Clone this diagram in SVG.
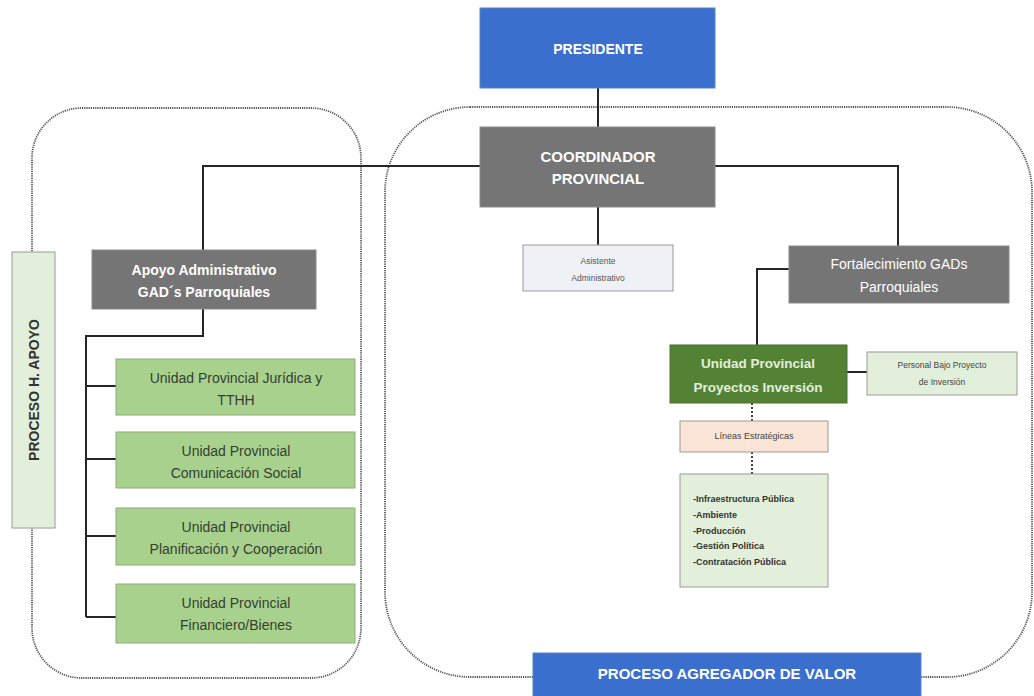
<svg xmlns="http://www.w3.org/2000/svg" width="1034" height="696" viewBox="0 0 1034 696">
<style>
text{font-family:"Liberation Sans",Arial,sans-serif;text-anchor:middle}
.cont{fill:none;stroke:#555;stroke-width:1.8;stroke-dasharray:1.2 1}
.blue{fill:#3b6fce;stroke:#5a82c8;stroke-width:1}
.gray{fill:#757575;stroke:#8a8a8a;stroke-width:1}
.lg{fill:#a9d18e;stroke:#8faa7a;stroke-width:1}
.pale{fill:#e2efda;stroke:#9a9a9a;stroke-width:1}
.wb{fill:#fff;font-weight:bold}
.gt{fill:#354030;font-size:14px}
.ln{fill:none;stroke:#262626;stroke-width:2}
.dl{fill:none;stroke:#404040;stroke-width:2;stroke-dasharray:2 2}
</style>
<rect width="1034" height="696" fill="#fff"/>
<g id="containers">
<rect class="cont" x="32" y="108" width="329" height="570" rx="50" ry="50"/>
<rect class="cont" x="385" y="107" width="647" height="570" rx="85" ry="85"/>
</g>
<g id="connectors">
<path class="ln" d="M598 88V127"/>
<path class="ln" d="M480 166H203V250"/>
<path class="ln" d="M715 166H898V246"/>
<path class="ln" d="M598 207V245"/>
<path class="ln" d="M789 269H757V345"/>
<path class="ln" d="M847 372H867"/>
<path class="ln" d="M203 309V336H86V617"/>
<path class="ln" d="M86 386H116M86 459H116M86 536H116M86 617H116"/>
<path class="dl" d="M752 403V421M752 452V474"/>
</g>
<g id="presidente">
<rect class="blue" x="480" y="8" width="235" height="80"/>
<text class="wb" x="598" y="54" font-size="14">PRESIDENTE</text>
</g>
<g id="coordinador">
<rect class="gray" x="480" y="127" width="235" height="80"/>
<text class="wb" x="598" y="162" font-size="15">COORDINADOR</text>
<text class="wb" x="598" y="184" font-size="15">PROVINCIAL</text>
</g>
<g id="asistente">
<rect x="523" y="245" width="150" height="46" fill="#eef1f5" stroke="#9a9a9a"/>
<text x="598" y="264" font-size="8.5" fill="#555">Asistente</text>
<text x="598" y="281" font-size="8.5" fill="#555">Administrativo</text>
</g>
<g id="fortalecimiento">
<rect class="gray" x="789" y="246" width="220" height="57"/>
<text x="899" y="269" font-size="14" fill="#fff">Fortalecimiento GADs</text>
<text x="899" y="292" font-size="14" fill="#fff">Parroquiales</text>
</g>
<g id="proyectos">
<rect x="670" y="345" width="177" height="58" fill="#548235" stroke="#4a7030"/>
<text x="758" y="368" font-size="13.5" font-weight="bold" fill="#e2efda">Unidad Provincial</text>
<text x="758" y="392" font-size="13.5" font-weight="bold" fill="#e2efda">Proyectos Inversión</text>
</g>
<g id="personal">
<rect class="pale" x="867" y="352" width="150" height="43"/>
<text x="942" y="368" font-size="8.5" fill="#444">Personal Bajo Proyecto</text>
<text x="942" y="385" font-size="8.5" fill="#444">de Inversión</text>
</g>
<g id="lineas">
<rect x="680" y="421" width="148" height="31" fill="#fbe5d6" stroke="#9a9a9a"/>
<text x="754" y="439" font-size="9" fill="#444">Líneas Estratégicas</text>
</g>
<g id="lista">
<rect class="pale" x="680" y="474" width="148" height="113"/>
<g font-size="9" font-weight="bold" fill="#333">
<text x="693" y="502" style="text-anchor:start">-Infraestructura Pública</text>
<text x="693" y="518" style="text-anchor:start">-Ambiente</text>
<text x="693" y="534" style="text-anchor:start">-Producción</text>
<text x="693" y="549" style="text-anchor:start">-Gestión Política</text>
<text x="693" y="565" style="text-anchor:start">-Contratación Pública</text>
</g>
</g>
<g id="agregador">
<rect class="blue" x="533" y="653" width="388" height="45"/>
<text class="wb" x="727" y="679" font-size="15">PROCESO AGREGADOR DE VALOR</text>
</g>
<g id="apoyo-h">
<rect class="pale" x="12" y="252" width="43" height="276"/>
<text transform="translate(39 390) rotate(-90)" font-size="14" font-weight="bold" fill="#333">PROCESO H. APOYO</text>
</g>
<g id="apoyo-admin">
<rect class="gray" x="92" y="250" width="224" height="59"/>
<text class="wb" x="204" y="275" font-size="14">Apoyo Administrativo</text>
<text class="wb" x="204" y="297" font-size="14">GAD´s Parroquiales</text>
</g>
<g id="juridica">
<rect class="lg" x="116" y="359" width="239" height="56"/>
<text class="gt" x="236" y="383">Unidad Provincial Jurídica y</text>
<text class="gt" x="236" y="405">TTHH</text>
</g>
<g id="comunicacion">
<rect class="lg" x="116" y="432" width="239" height="56"/>
<text class="gt" x="236" y="456">Unidad Provincial</text>
<text class="gt" x="236" y="478">Comunicación Social</text>
</g>
<g id="planificacion">
<rect class="lg" x="116" y="508" width="239" height="57"/>
<text class="gt" x="236" y="532">Unidad Provincial</text>
<text class="gt" x="236" y="554">Planificación y Cooperación</text>
</g>
<g id="financiero">
<rect class="lg" x="116" y="584" width="239" height="59"/>
<text class="gt" x="236" y="608">Unidad Provincial</text>
<text class="gt" x="236" y="630">Financiero/Bienes</text>
</g>
</svg>
